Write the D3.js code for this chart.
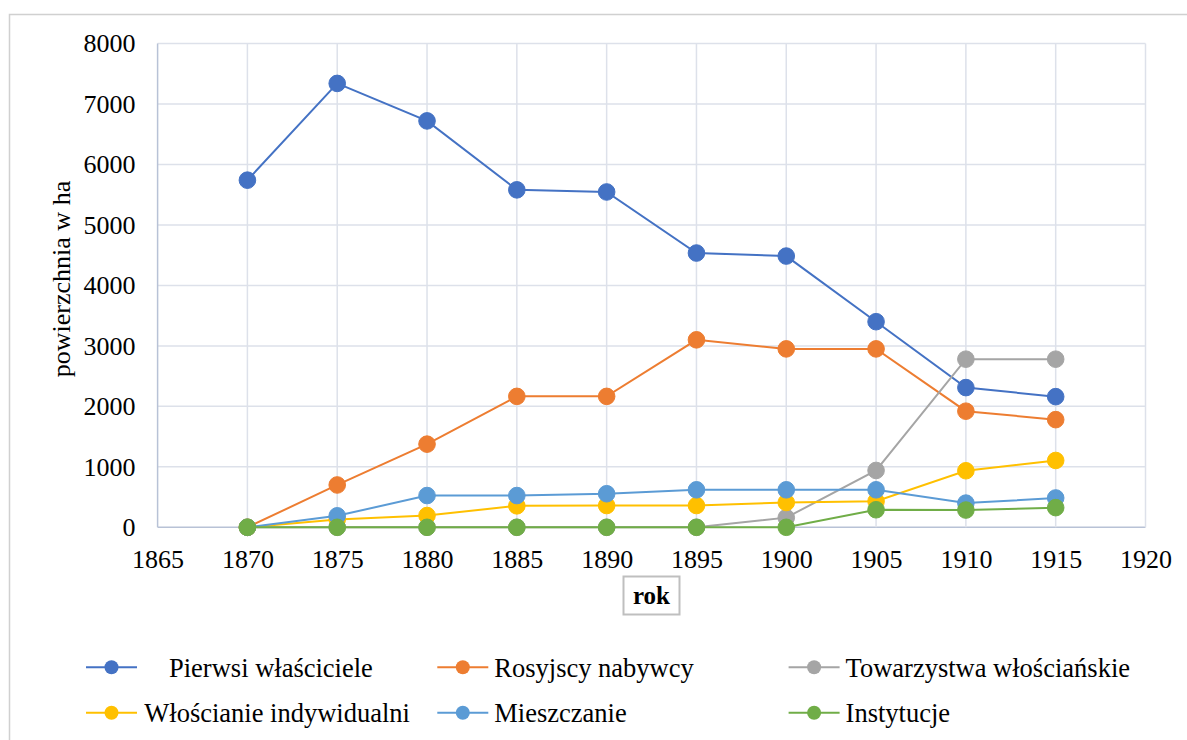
<!DOCTYPE html>
<html>
<head>
<meta charset="utf-8">
<script src="https://cdn.jsdelivr.net/npm/d3@7"></script>
<style>
  body { margin: 0; background: #fff; }
  svg, svg text { font-family: "Liberation Serif", "Times New Roman", Times, "DejaVu Serif", serif; }
</style>
</head>
<body>
<svg width="1187" height="740"></svg>
<script>
// lata i wartosci
var years = [1870, 1875, 1880, 1885, 1890, 1895, 1900, 1905, 1910, 1915];
var pierwsi      = [5740, 7340, 6720, 5580, 5545, 4535, 4485, 3400, 2310, 2160];
var rosyjscy     = [0, 700, 1375, 2165, 2165, 3100, 2950, 2950, 1920, 1780];
var towarzystwa  = [0, 0, 0, 0, 0, 0, 160, 940, 2780, 2780];
var wloscianie   = [0, 130, 195, 355, 360, 360, 410, 430, 935, 1105];
var mieszczanie  = [0, 190, 525, 525, 555, 620, 620, 620, 400, 485];
var instytucje   = [0, 0, 0, 0, 0, 0, 0, 290, 285, 325];

var seriesNames = ["Pierwsi właściciele", "Rosyjscy nabywcy", "Towarzystwa włościańskie",
                   "Włościanie indywidualni", "Mieszczanie", "Instytucje"];
var seriesColors = ["#4472C4", "#ED7D31", "#A5A5A5", "#FFC000", "#5B9BD5", "#70AD47"];
var xTicks = [1865, 1870, 1875, 1880, 1885, 1890, 1895, 1900, 1905, 1910, 1915, 1920];
var yTicks = [0, 1000, 2000, 3000, 4000, 5000, 6000, 7000, 8000];

var allSeries = [pierwsi, rosyjscy, towarzystwa, wloscianie, mieszczanie, instytucje];
var data = allSeries.map(function(vals, i) {
  return {
    name: seriesNames[i],
    color: seriesColors[i],
    values: years.map(function(y, j) { return {x: y, y: vals[j]}; })
  };
});

var FONT = '"Liberation Serif", "Times New Roman", Times, serif';
var svg = d3.select("svg");

// ramka wykresu
svg.append("rect")
  .attr("x", 9.5).attr("y", 14.5)
  .attr("width", 1200).attr("height", 760)
  .attr("fill", "none").attr("stroke", "#d0d0d0").attr("stroke-width", 1.5);

var xScale = d3.scaleLinear().domain([1865, 1920]).range([157.6, 1145.5]);
var yScale = d3.scaleLinear().domain([0, 8000]).range([527.3, 43.5]);

// siatka
var grid = svg.append("g");
grid.selectAll("line.gy")
  .data(yTicks).enter().append("line")
  .attr("x1", xScale(1865)).attr("x2", xScale(1920))
  .attr("y1", function(d) { return yScale(d); })
  .attr("y2", function(d) { return yScale(d); })
  .attr("stroke", function(d) { return d === 0 ? "#b8c2d6" : "#dde1ea"; })
  .attr("stroke-width", 1.5);
grid.selectAll("line.gx")
  .data(xTicks).enter().append("line")
  .attr("x1", function(d) { return xScale(d); })
  .attr("x2", function(d) { return xScale(d); })
  .attr("y1", yScale(0)).attr("y2", yScale(8000))
  .attr("stroke", function(d) { return d === 1865 ? "#b8c2d6" : "#dde1ea"; })
  .attr("stroke-width", 1.5);

// osie
var yAxis = svg.append("g")
  .attr("transform", "translate(" + xScale(1865) + ",0)")
  .call(d3.axisLeft(yScale).tickValues(yTicks).tickFormat(d3.format("d")).tickSize(0).tickPadding(22));
var xAxis = svg.append("g")
  .attr("transform", "translate(0," + yScale(0) + ")")
  .call(d3.axisBottom(xScale).tickValues(xTicks).tickFormat(d3.format("d")).tickSize(0).tickPadding(22));
[xAxis, yAxis].forEach(function(a) {
  a.attr("font-family", null).attr("font-size", null);
  a.select(".domain").remove();
  a.selectAll("text")
    .style("font-family", FONT)
    .style("font-size", "26px")
    .attr("fill", "#000");
});

// tytul osi y
svg.append("text")
  .attr("transform", "translate(70,279) rotate(-90)")
  .attr("text-anchor", "middle")
  .style("font-family", FONT)
  .style("font-size", "26px")
  .text("powierzchnia w ha");

// tytul osi x w ramce
svg.append("rect")
  .attr("x", 623.5).attr("y", 576.5).attr("width", 56).attr("height", 38)
  .attr("fill", "#fff").attr("stroke", "#bfbfbf").attr("stroke-width", 2);
svg.append("text")
  .attr("x", 651.5).attr("y", 604)
  .attr("text-anchor", "middle")
  .style("font-family", FONT)
  .style("font-size", "25px").style("font-weight", "bold")
  .text("rok");

// linie i punkty
var line = d3.line()
  .x(function(d) { return xScale(d.x); })
  .y(function(d) { return yScale(d.y); });

var sg = svg.selectAll("g.series")
  .data(data).enter().append("g").attr("class", "series");
sg.append("path")
  .attr("d", function(d) { return line(d.values); })
  .attr("fill", "none")
  .attr("stroke", function(d) { return d.color; })
  .attr("stroke-width", 2);
sg.selectAll("circle")
  .data(function(d) { return d.values.map(function(v) { return {x: v.x, y: v.y, c: d.color}; }); })
  .enter().append("circle")
  .attr("cx", function(d) { return xScale(d.x); })
  .attr("cy", function(d) { return yScale(d.y); })
  .attr("r", 8.3)
  .attr("fill", function(d) { return d.c; })
  .attr("stroke", function(d) { return d.c; })
  .attr("stroke-width", 1);

// legenda (3 kolumny, 2 wiersze)
var legX = [86, 437.3, 788.6];
var legTextX = [169, 494.3, 845.6, 144.3, 494.3, 845.6];
var legY = [667.3, 712.7];
var leg = svg.selectAll("g.leg")
  .data(data).enter().append("g").attr("class", "leg")
  .attr("transform", function(d, i) { return "translate(" + legX[i % 3] + "," + legY[Math.floor(i / 3)] + ")"; });
leg.append("line")
  .attr("x1", 0).attr("x2", 51).attr("y1", 0).attr("y2", 0)
  .attr("stroke", function(d) { return d.color; })
  .attr("stroke-width", 2);
leg.append("circle")
  .attr("cx", 25.5).attr("cy", 0).attr("r", 7)
  .attr("fill", function(d) { return d.color; });
leg.append("text")
  .attr("x", function(d, i) { return legTextX[i] - legX[i % 3]; })
  .attr("y", 9.3)
  .style("font-family", FONT)
  .style("font-size", "26.5px")
  .text(function(d) { return d.name; });
</script>
</body>
</html>
